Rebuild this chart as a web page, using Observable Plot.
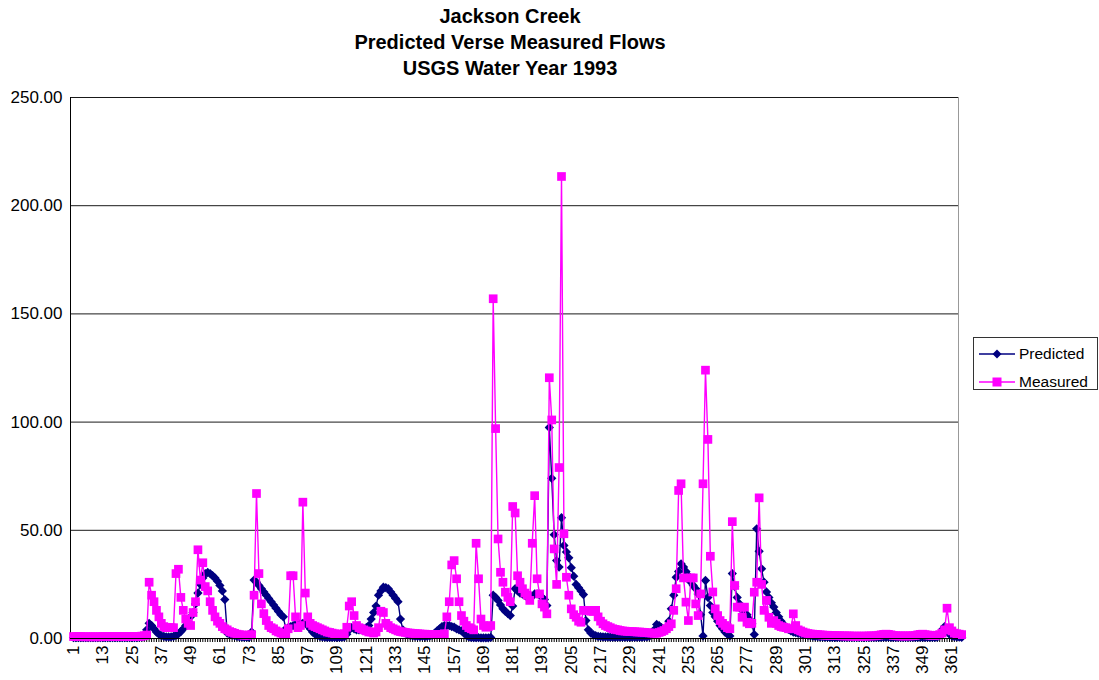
<!DOCTYPE html>
<html>
<head>
<meta charset="utf-8">
<script src="https://cdn.jsdelivr.net/npm/d3@7"></script>
<script src="https://cdn.jsdelivr.net/npm/@observablehq/plot@0.6"></script>
<style>
  html, body { margin: 0; padding: 0; background: #fff; }
  body { width: 1099px; height: 680px; position: relative; overflow: hidden;
         font-family: "Liberation Sans", Arial, sans-serif; color: #000; }
  #title { position: absolute; left: 0; top: 3px; width: 1020px; height: 87px; text-align: center;
           font-weight: bold; font-size: 20px; line-height: 26px; }
  #chart { position: absolute; left: 0; top: 90px; }
  #legend { position: absolute; left: 973px; top: 337px; width: 125px; height: 53px;
            box-sizing: border-box; border: 1px solid #333; background: #fff; font-size: 15.5px; }
  #legend .row { position: absolute; left: 4px; height: 20px; display: flex; align-items: center; }
  #legend .row svg { display: block; }
  #legend .row span { margin-left: 3px; white-space: nowrap; }
</style>
</head>
<body>
<div id="title">Jackson Creek<br>Predicted Verse Measured Flows<br>USGS Water Year 1993</div>
<div id="chart"></div>
<div id="legend">
  <div class="row" style="top:6px"><svg width="38" height="12"><line x1="1" x2="37" y1="6" y2="6" stroke="#000080" stroke-width="1.3"/><path d="M19,1.5L23.5,6L19,10.5L14.5,6Z" fill="#000080"/></svg><span>Predicted</span></div>
  <div class="row" style="top:34px"><svg width="38" height="12"><line x1="1" x2="37" y1="6" y2="6" stroke="#ff00ff" stroke-width="1.3"/><rect x="14.5" y="1.5" width="9" height="9" fill="#ff00ff"/></svg><span>Measured</span></div>
</div>
<script>
// Day-by-day flows (USGS water year 1993)
const predicted = [
  0.4,0.4,0.4,0.4,0.4,0.4,0.4,0.4,0.4,0.4,
  0.4,0.4,0.4,0.4,0.4,0.4,0.4,0.4,0.4,0.4,
  0.4,0.4,0.4,0.4,0.4,0.4,0.4,0.5,0.6,1.0,
  4,7,6,4.5,3,2,1.3,1,0.8,0.7,
  0.8,1,1.5,2.2,3.2,4.5,6,8,10,12,
  16,21,25,28,30,30.5,30,29,28,26.5,
  24.5,22,18,2.5,2,1.6,1.3,1,0.8,0.7,
  0.6,0.6,0.6,3,27,26,24.5,23,21.5,20,
  18.5,17,15.5,14,12.5,11,10,4.5,5,5.5,
  6,6.5,7,7,7,7,6,4.5,3,2,
  1.4,1,0.7,0.6,0.5,0.5,0.5,0.5,0.5,0.5,
  0.6,0.8,2,4,5,4.5,4,4,4,4.5,
  5,6,9,12,15,20,22,23.7,23.5,23,
  21.5,20,18.5,17,9,4,2.5,1.8,1.4,1.2,
  1.1,1,1,1,1,1,1.2,1.5,2.5,3.5,
  4.5,5.5,6,6,6,5.5,5.2,4.5,4,3.5,
  2.5,1.5,0.8,0.5,0.4,0.4,0.4,0.3,0.3,0.3,
  0.3,0.5,20,19,17.6,15.5,13.7,12.5,11.5,10.6,
  15,23,22,21,20.5,20,19,18.3,19.5,20.6,
  20.6,20.5,19,18,15.2,97.5,74,48,36,33,
  55.8,43,40,37.3,32.7,28.8,25,23.5,22,20.3,
  8.3,4,2.5,1.8,1.3,1,0.9,0.8,0.7,0.7,
  0.6,0.6,0.6,0.6,0.6,0.6,0.6,0.6,0.6,0.6,
  0.6,0.6,0.6,0.6,0.7,0.8,1,2,4,6.5,
  6,5,4.5,5,8,13.7,20,28.3,31,34.5,
  33,31,29,26,24.5,23,20.6,11,1.2,26.8,
  19,15.2,12,10,8,6,4.5,3,2,1.2,
  30,24,19,16,13,12,11,9,6.8,1.8,
  50.7,40.3,32.2,26,21.5,19,16.5,14.5,12,10,
  8,6.5,5.2,4.2,3.5,3,2.7,2.4,2.2,2,
  1.7,1.5,1.3,1.1,1,0.9,0.8,0.7,0.6,0.6,
  0.5,0.5,0.5,0.5,0.5,0.5,0.5,0.5,0.5,0.5,
  0.5,0.5,0.5,0.5,0.5,0.5,0.5,0.5,0.5,0.5,
  0.5,0.5,0.6,0.6,0.6,0.5,0.5,0.5,0.5,0.5,
  0.5,0.5,0.5,0.5,0.5,0.5,0.5,0.5,0.5,0.5,
  0.5,0.5,0.5,0.5,0.6,2,4,5.5,4,2,
  1.2,0.9,0.7,0.6,0.5
];
const measured = [
  0.9,0.9,0.9,0.9,0.8,0.8,0.8,0.8,0.8,0.8,
  0.8,0.8,0.9,0.9,0.9,0.9,0.9,0.9,0.9,0.9,
  0.9,0.9,0.9,1,1,1,1,1,1.1,1.3,
  1.6,26,20,17,13,10,7,5.5,5,5,
  5,5,30,32,19,13,9,7,6,12,
  17,41,27,35,24,22,17,13,10,8,
  7,5.5,4.5,4,3.2,2.8,2.4,2,1.8,1.6,
  1.5,1.5,1.6,1.8,20,67,30,16,11.5,8.3,
  6,5,4.5,3.5,3,2.5,2,2,4.5,29,
  29,10,5,6,63,21,10,7,6,5.5,
  5,4.5,4,3.5,3,2.8,2.5,2.2,2,2,
  2,2.2,5.2,15,17,10.6,6,5,4.5,4,
  3.5,3,3,2.5,3,5,12.6,12,7,6,
  5,4.5,4,3.5,3.2,3,2.8,2.6,2.5,2.4,
  2.3,2.2,2.1,2,2,1.9,1.9,1.8,1.8,1.8,
  1.8,1.9,2.2,10,17,34,36,27.6,17,10.6,
  8,6,5,4.5,4,44,27.6,9,6,5.2,
  5.5,6,157,97,46,30.6,26,21.4,19,17,
  61,58,29,26,23,21,20,17.6,44,66,
  27.6,20.6,16,14.5,11.4,120.5,101,41.4,25,79,
  213.5,48.4,28.3,20,13.7,11,9.8,8,7.5,13,
  13,13,12.6,12.5,13,10,8,6.8,6,5.5,
  5,4.5,4.2,4,3.7,3.5,3.4,3.3,3.2,3.2,
  3.1,3,3,2.9,2.8,2.7,2.6,2.5,2.4,2.4,
  2.8,3.2,3.7,4.5,5.5,6.8,13,23,68.4,71.5,
  28,16.8,8.3,28,28,16,10.6,20.6,71.5,124,
  92,38,21.5,13.7,10.6,8.3,7,6,5,4.5,
  54,24.5,14.5,14.5,9.8,14.5,7.5,6.8,7,21.4,
  26,65,25,13,17.6,9.8,7,8.3,7,6,
  5.5,5.2,5,4.5,4.5,11.4,6,4,3.5,3,
  2.6,2.3,2.1,2,1.9,1.8,1.7,1.6,1.5,1.5,
  1.4,1.4,1.3,1.3,1.3,1.2,1.2,1.2,1.2,1.1,
  1.1,1.1,1.1,1.1,1.1,1.1,1.2,1.2,1.2,1.3,
  1.5,1.7,1.9,2,1.9,1.7,1.4,1.3,1.2,1.2,
  1.2,1.2,1.2,1.2,1.3,1.4,1.7,1.9,2,1.8,
  1.6,1.5,1.4,1.4,1.5,1.8,2.5,4,14,5,
  3.5,2.5,2.2,2,1.8
];
const xTickLabels = [1,13,25,37,49,61,73,85,97,109,121,133,145,157,169,181,193,205,217,229,241,253,265,277,289,301,313,325,337,349,361];
const yTicks = [0,50,100,150,200,250];

const days = d3.range(1, predicted.length + 1);
const rows = days.map((d, i) => ({day: d, predicted: predicted[i], measured: measured[i]}));

const xMin = -0.2295, xMax = 363.70;
const diamond = {
  draw(ctx, size) {
    const r = Math.sqrt(size / 2);
    ctx.moveTo(0, -r); ctx.lineTo(r, 0); ctx.lineTo(0, r); ctx.lineTo(-r, 0); ctx.closePath();
  }
};

const chart = Plot.plot({
  width: 1099,
  height: 590,
  marginLeft: 70,
  marginRight: 141,
  marginTop: 7,
  marginBottom: 42,
  style: {fontFamily: '"Liberation Sans", Arial, sans-serif', fontSize: "17px", color: "#000", background: "#fff", overflow: "visible"},
  x: {type: "linear", domain: [xMin, xMax]},
  y: {domain: [0, 250]},
  marks: [
    Plot.gridY(yTicks.filter(t => t > 0), {stroke: "#000", strokeOpacity: 0.9}),
    Plot.ruleX([xMax], {stroke: "#999"}),
    Plot.ruleX([xMin], {stroke: "#000"}),
    Plot.axisY(yTicks, {tickFormat: d => d.toFixed(2), tickSize: 0, tickPadding: 8, label: null}),
    Plot.axisX(days.filter(d => d <= 363), {tickSize: 4, tickFormat: () => "", label: null}),
    Plot.axisX(xTickLabels, {tickSize: 4, tickRotate: -90, tickPadding: 3, label: null}),
    Plot.lineY(rows, {x: "day", y: "predicted", stroke: "#000080", strokeWidth: 1.4}),
    Plot.dot(rows, {x: "day", y: "predicted", symbol: diamond, r: 3.7, fill: "#000080"}),
    Plot.lineY(rows, {x: "day", y: "measured", stroke: "#ff00ff", strokeWidth: 1.4}),
    Plot.dot(rows, {x: "day", y: "measured", symbol: "square", r: 4.9, fill: "#ff00ff"}),
    Plot.ruleY([0], {stroke: "#000"})
  ]
});
document.getElementById("chart").appendChild(chart);
</script>
</body>
</html>
